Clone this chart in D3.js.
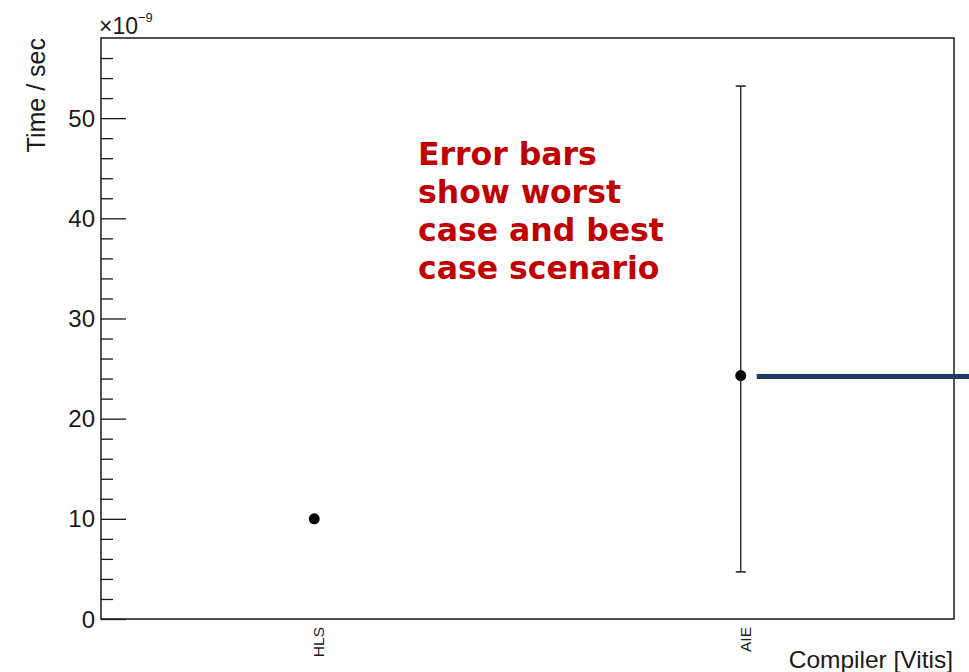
<!DOCTYPE html>
<html>
<head>
<meta charset="utf-8">
<script src="https://cdn.jsdelivr.net/npm/d3@7"></script>
<style>
  html, body { margin: 0; padding: 0; background: #fff; }
  svg { display: block; }
</style>
</head>
<body>
<svg id="chart" width="969" height="672"></svg>
<script>
// Execution time per compiler target, in units of 1e-9 s
const categories = ["HLS", "AIE"];
const timeValues = [10.0, 24.3];
const timeLow = [10.0, 4.7];    // best case
const timeHigh = [10.0, 53.2];  // worst case
const yMajorTicks = [0, 10, 20, 30, 40, 50];
const noteLines = ["Error bars", "show worst", "case and best", "case scenario"];

const svg = d3.select("#chart");
const frame = { left: 101, top: 38, right: 954, bottom: 619 };
const fontAxis = "'Liberation Sans', Arial, Helvetica, sans-serif";

const x = d3.scaleBand()
  .domain(categories)
  .range([frame.left, frame.right])
  .paddingInner(0).paddingOuter(0);

const y = d3.scaleLinear()
  .domain([0, 58])
  .range([frame.bottom, frame.top]);

const ink = "#1a1a1a";

// Frame
svg.append("rect")
  .attr("x", frame.left).attr("y", frame.top)
  .attr("width", frame.right - frame.left)
  .attr("height", frame.bottom - frame.top)
  .attr("fill", "none").attr("stroke", ink).attr("stroke-width", 1.5);

// Y axis: major ticks every 10, minor ticks every 2, drawn inward
const minorTicks = d3.range(0, 58, 2).filter(v => v % 10 !== 0);
svg.append("g").attr("transform", `translate(${frame.left},0)`)
  .call(d3.axisRight(y).tickValues(minorTicks).tickSize(12).tickFormat(""))
  .call(g => g.select(".domain").remove());
svg.append("g").attr("transform", `translate(${frame.left},0)`)
  .call(d3.axisRight(y).tickValues(yMajorTicks).tickSize(25).tickFormat(""))
  .call(g => g.select(".domain").remove());
svg.selectAll(".tick line").attr("stroke", ink).attr("stroke-width", 1.3);

// Y tick labels
svg.append("g").selectAll("text")
  .data(yMajorTicks)
  .join("text")
  .attr("x", frame.left - 6)
  .attr("y", d => y(d))
  .attr("dy", "0.36em")
  .attr("text-anchor", "end")
  .attr("font-family", fontAxis)
  .attr("font-size", 24)
  .attr("fill", ink)
  .text(d => d);

// Exponent label
const expo = svg.append("text")
  .attr("x", frame.left - 2)
  .attr("y", 34)
  .attr("font-family", fontAxis)
  .attr("font-size", 23)
  .attr("fill", ink);
expo.append("tspan").text("\u00d710");
expo.append("tspan").attr("dy", -12).attr("font-size", 13).text("\u22129");

// Y title
svg.append("text")
  .attr("transform", `translate(45,${frame.top}) rotate(-90)`)
  .attr("text-anchor", "end")
  .attr("font-family", fontAxis)
  .attr("font-size", 25)
  .attr("fill", ink)
  .text("Time / sec");

// X category labels, rotated
svg.append("g").selectAll("text")
  .data(categories)
  .join("text")
  .attr("transform", d => `translate(${x(d) + x.bandwidth() / 2 + 10},${frame.bottom + 8}) rotate(-90)`)
  .attr("text-anchor", "end")
  .attr("font-family", fontAxis)
  .attr("font-size", 15.5)
  .attr("fill", ink)
  .text(d => d);

// X title
svg.append("text")
  .attr("x", frame.right - 1)
  .attr("y", 668)
  .attr("text-anchor", "end")
  .attr("font-family", fontAxis)
  .attr("font-size", 24.5)
  .attr("fill", ink)
  .text("Compiler [Vitis]");

// Points with asymmetric error bars
const pts = categories.map((c, i) => ({ c, v: timeValues[i], lo: timeLow[i], hi: timeHigh[i] }));
const cx = d => x(d.c) + x.bandwidth() / 2;
const errG = svg.append("g");
pts.filter(d => d.hi > d.lo).forEach(d => {
  errG.append("line")
    .attr("x1", cx(d)).attr("x2", cx(d))
    .attr("y1", y(d.lo)).attr("y2", y(d.hi))
    .attr("stroke", ink).attr("stroke-width", 1.3);
  [d.lo, d.hi].forEach(e => {
    errG.append("line")
      .attr("x1", cx(d) - 5).attr("x2", cx(d) + 5)
      .attr("y1", y(e)).attr("y2", y(e))
      .attr("stroke", ink).attr("stroke-width", 1.5);
  });
});
svg.append("g").selectAll("circle")
  .data(pts)
  .join("circle")
  .attr("cx", cx)
  .attr("cy", d => y(d.v))
  .attr("r", 5.5)
  .attr("fill", "#000");

// Pointer line from the AIE point towards the right edge
const aie = pts[1];
svg.append("line")
  .attr("x1", cx(aie) + 16).attr("x2", 969)
  .attr("y1", y(aie.v) + 1).attr("y2", y(aie.v) + 1)
  .attr("stroke", "#1f3763").attr("stroke-width", 5);

// Annotation
const note = svg.append("text")
  .attr("font-family", "'DejaVu Sans', Verdana, sans-serif")
  .attr("font-weight", "bold")
  .attr("font-size", 31.5)
  .attr("fill", "#c00000");
noteLines.forEach((t, i) => {
  note.append("tspan").attr("x", 418).attr("y", 165 + i * 38).text(t);
});
</script>
</body>
</html>
